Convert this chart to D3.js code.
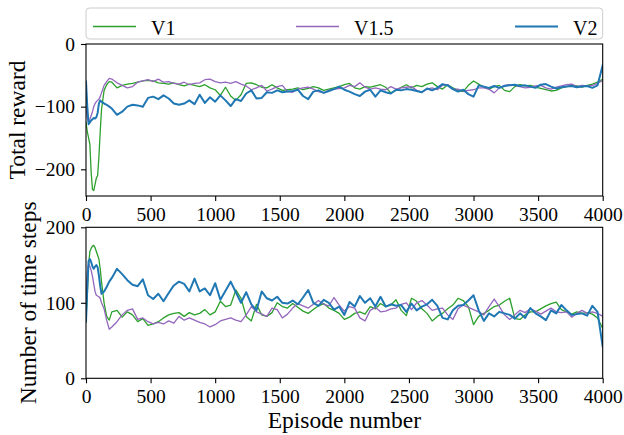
<!DOCTYPE html>
<html>
<head>
<meta charset="utf-8">
<script src="https://cdn.jsdelivr.net/npm/d3@7"></script>
<style>
	body { margin: 0; background: #fff; }
	svg { display: block; }
	svg text { font-family: 'Liberation Serif', 'DejaVu Serif', serif; }
</style>
</head>
<body>
<svg id="chart" width="624" height="435"></svg>
<script>
'use strict';

////////// Data //////////
const episodes = [0, 10, 20, 30, 40, 50, 60, 70, 80, 90, 100, 110, 120, 140, 160, 180, 200,
	240, 280, 320, 360, 400, 440, 480, 520, 560, 600, 640, 680, 720, 760, 800, 840, 880, 920, 960,
	1000, 1040, 1080, 1120, 1160, 1200, 1240, 1280, 1320, 1360, 1400, 1440, 1480, 1520, 1560, 1600,
	1640, 1680, 1720, 1760, 1800, 1840, 1880, 1920, 1960, 2000, 2040, 2080, 2120, 2160, 2200, 2240,
	2280, 2320, 2360, 2400, 2440, 2480, 2520, 2560, 2600, 2640, 2680, 2720, 2760, 2800, 2840, 2880,
	2920, 2960, 3000, 3040, 3080, 3120, 3160, 3200, 3240, 3280, 3320, 3360, 3400, 3440, 3480, 3520,
	3560, 3600, 3640, 3680, 3720, 3760, 3800, 3840, 3880, 3920, 3960, 4000];

const seriesNames = ['V1', 'V1.5', 'V2'];

// total reward
const rewardV1 = [-125, -140, -150, -160, -205, -232, -234, -224, -214, -210, -180, -140, -105, -74, -65, -60, -61,
	-70, -66, -64, -63, -61, -59, -58, -59, -62, -63, -64, -62, -65, -67, -64, -66, -68, -65, -70,
	-73, -82, -69, -83, -90, -81, -63, -62, -65, -69, -70, -65, -70, -74, -73, -72, -70, -73, -71,
	-68, -70, -74, -72, -70, -68, -65, -63, -70, -72, -68, -69, -67, -65, -69, -78, -74, -69, -65,
	-70, -66, -68, -64, -62, -68, -72, -65, -70, -74, -76, -66, -59, -64, -69, -72, -68, -66, -74,
	-76, -68, -65, -67, -66, -69, -71, -73, -75, -74, -70, -68, -66, -67, -69, -66, -64, -61, -56];
const rewardV15 = [-100, -118, -124, -120, -114, -108, -100, -95, -92, -90, -88, -84, -78, -66, -60, -55, -56,
	-62, -66, -70, -68, -61, -59, -57, -60, -56, -61, -60, -63, -64, -61, -65, -63, -62, -57, -56,
	-60, -62, -61, -63, -60, -64, -67, -73, -70, -66, -75, -72, -68, -66, -76, -77, -72, -70, -69,
	-72, -76, -78, -74, -72, -71, -70, -66, -68, -62, -69, -72, -70, -72, -73, -68, -72, -70, -69,
	-68, -74, -77, -72, -70, -73, -66, -65, -72, -72, -75, -74, -73, -70, -70, -72, -78, -70, -66,
	-65, -66, -68, -70, -69, -67, -66, -70, -72, -69, -67, -65, -64, -68, -66, -67, -66, -63, -58];
const rewardV2 = [-60, -100, -128, -125, -122, -120, -118, -119, -117, -110, -95, -90, -92, -95, -97, -100, -103,
	-113, -108, -100, -97, -98, -100, -86, -84, -88, -82, -87, -95, -97, -95, -90, -96, -81, -94, -85,
	-92, -82, -90, -99, -88, -91, -79, -74, -87, -86, -77, -78, -74, -77, -76, -75, -73, -83, -88,
	-76, -74, -78, -75, -72, -68, -73, -76, -80, -83, -76, -73, -84, -74, -77, -79, -73, -74, -72,
	-73, -75, -77, -71, -74, -70, -64, -66, -72, -76, -73, -80, -84, -66, -68, -70, -67, -70, -67,
	-66, -65, -67, -66, -68, -70, -65, -64, -68, -71, -69, -68, -67, -69, -68, -67, -70, -66, -34];

// number of time steps
const stepsV1 = [80, 110, 150, 168, 172, 175, 176, 173, 168, 163, 158, 145, 128, 100, 82, 77, 88,
	90, 81, 88, 84, 75, 79, 70, 72, 75, 80, 84, 86, 87, 82, 87, 84, 86, 91, 84,
	88, 102, 95, 97, 117, 106, 82, 76, 98, 84, 82, 87, 100, 95, 93, 99, 94, 89, 86,
	91, 96, 99, 93, 90, 86, 78, 81, 86, 88, 85, 95, 92, 99, 95, 97, 104, 90, 83,
	106, 102, 92, 86, 76, 82, 86, 92, 97, 106, 103, 95, 71, 82, 86, 90, 95, 97, 102,
	106, 79, 78, 84, 88, 88, 92, 96, 99, 101, 91, 88, 85, 88, 86, 87, 85, 80, 66];
const stepsV15 = [100, 140, 152, 148, 143, 135, 125, 115, 110, 109, 108, 106, 100, 92, 77, 65, 68,
	75, 84, 90, 92, 78, 80, 75, 72, 74, 72, 76, 73, 82, 77, 80, 77, 74, 72, 68,
	71, 76, 78, 80, 77, 75, 84, 95, 88, 85, 82, 93, 91, 80, 85, 93, 99, 96, 93,
	98, 103, 98, 96, 107, 97, 89, 95, 93, 80, 76, 90, 94, 88, 89, 92, 93, 98, 100,
	91, 100, 103, 97, 90, 92, 93, 84, 78, 92, 97, 94, 91, 88, 84, 95, 105, 95, 84,
	78, 84, 90, 87, 92, 89, 85, 89, 93, 88, 87, 88, 81, 86, 90, 86, 88, 86, 82];
const stepsV2 = [75, 120, 155, 158, 154, 148, 145, 148, 150, 147, 136, 122, 112, 115, 121, 128, 133,
	145, 138, 130, 124, 122, 131, 110, 105, 112, 102, 113, 123, 128, 125, 115, 132, 115, 119, 110,
	126, 104, 116, 128, 114, 100, 114, 98, 90, 115, 106, 103, 108, 100, 99, 103, 98, 107, 117,
	100, 96, 104, 100, 91, 95, 84, 101, 95, 109, 100, 106, 95, 108, 95, 98, 96, 97, 88,
	99, 90, 95, 98, 104, 96, 80, 78, 90, 96, 97, 103, 110, 90, 76, 86, 82, 88, 86,
	84, 79, 86, 80, 93, 86, 82, 77, 90, 86, 97, 90, 84, 85, 86, 83, 96, 88, 42];

const xTicks = [0, 500, 1000, 1500, 2000, 2500, 3000, 3500, 4000];
const rewardTicks = [0, -100, -200];
const stepsTicks = [0, 100, 200];


////////// Hard Coded Defs //////////
const colors = ['#2ca02c', '#9467bd', '#1f77b4'];
const lineWidths = [1.3, 1.3, 2];
const fontFamily = 'Liberation Serif';
const tickFont = '19.5px';
const labelFont = '23.5px';
const legendFont = '20px';
const plotLeft = 86;
const plotRight = 602.7;
const tickLen = 5;


////////////////////////////////////////////////////////////////
	// Scales
////////////////////////////////////////////////////////////////

const svg = d3.select('#chart');

const x = d3.scaleLinear().domain([0, 4000]).range([plotLeft, plotRight]);

const panels = [
	{
		name: 'reward',
		top: 44, bottom: 196,
		domain: [-242.6, 0],
		ticks: rewardTicks,
		series: [rewardV1, rewardV15, rewardV2],
		label: 'Total reward',
		labelX: 25
	},
	{
		name: 'steps',
		top: 227.3, bottom: 378.3,
		domain: [0, 200],
		ticks: stepsTicks,
		series: [stepsV1, stepsV15, stepsV2],
		label: 'Number of time steps',
		labelX: 36
	}
];


////////////////////////////////////////////////////////////////
	// Draw panels
////////////////////////////////////////////////////////////////

panels.forEach(p => {
	const y = d3.scaleLinear().domain(p.domain).range([p.bottom, p.top]);
	const g = svg.append('g').attr('class', 'panel-' + p.name);

	// clip for the lines
	const clipId = 'clip-' + p.name;
	svg.append('clipPath').attr('id', clipId)
		.append('rect')
		.attr('x', plotLeft).attr('y', p.top)
		.attr('width', plotRight - plotLeft).attr('height', p.bottom - p.top);

	const lineGroup = g.append('g').attr('clip-path', `url(#${clipId})`);
	p.series.forEach((vals, si) => {
		const line = d3.line()
			.x((d, i) => x(episodes[i]))
			.y(d => y(d));
		lineGroup.append('path')
			.datum(vals)
			.attr('d', line)
			.attr('fill', 'none')
			.attr('stroke', colors[si])
			.attr('stroke-width', lineWidths[si])
			.attr('stroke-linejoin', 'round')
			.attr('stroke-linecap', 'square');
	});

	// axes
	const xAxis = d3.axisBottom(x).tickValues(xTicks).tickSize(tickLen).tickSizeOuter(0).tickPadding(6).tickFormat(d3.format('d'));
	const yAxis = d3.axisLeft(y).tickValues(p.ticks).tickSize(tickLen).tickSizeOuter(0).tickPadding(6).tickFormat(d3.format('d'));

	const gx = g.append('g').attr('transform', `translate(0, ${p.bottom})`).call(xAxis);
	const gy = g.append('g').attr('transform', `translate(${plotLeft}, 0)`).call(yAxis);

	[gx, gy].forEach(ax => {
		ax.attr('font-family', fontFamily).attr('font-size', tickFont);
		ax.select('.domain').remove();
		ax.selectAll('.tick line').attr('stroke', '#000').attr('stroke-width', 1.1);
		ax.selectAll('.tick text').attr('fill', '#000');
	});

	// frame (all four spines)
	g.append('rect')
		.attr('x', plotLeft).attr('y', p.top)
		.attr('width', plotRight - plotLeft).attr('height', p.bottom - p.top)
		.attr('fill', 'none')
		.attr('stroke', '#000')
		.attr('stroke-width', 1.1);

	// y label
	g.append('text')
		.attr('transform', `translate(${p.labelX}, ${(p.top + p.bottom) / 2}) rotate(-90)`)
		.attr('text-anchor', 'middle')
		.attr('font-size', labelFont)
		.attr('fill', '#000')
		.text(p.label);
});

// x label
svg.append('text')
	.attr('x', (plotLeft + plotRight) / 2)
	.attr('y', 428)
	.attr('text-anchor', 'middle')
	.attr('font-size', labelFont)
	.attr('fill', '#000')
	.text('Episode number');


////////////////////////////////////////////////////////////////
	// Legend (expanded across the top axes)
////////////////////////////////////////////////////////////////

const legend = svg.append('g').attr('class', 'legend');
legend.append('rect')
	.attr('x', plotLeft).attr('y', 8)
	.attr('width', plotRight - plotLeft).attr('height', 31)
	.attr('rx', 3.5).attr('ry', 3.5)
	.attr('fill', 'rgba(255,255,255,0.8)')
	.attr('stroke', '#cccccc')
	.attr('stroke-width', 1);

const legendCols = [93, 296, 515];
const handleLen = 43;
seriesNames.forEach((name, i) => {
	const item = legend.append('g').attr('transform', `translate(${legendCols[i]}, 0)`);
	item.append('line')
		.attr('x1', 0).attr('x2', handleLen)
		.attr('y1', 26.5).attr('y2', 26.5)
		.attr('stroke', colors[i])
		.attr('stroke-width', lineWidths[i]);
	item.append('text')
		.attr('x', handleLen + 15)
		.attr('y', 35)
		.attr('font-size', legendFont)
		.attr('fill', '#000')
		.text(name);
});
</script>
</body>
</html>
